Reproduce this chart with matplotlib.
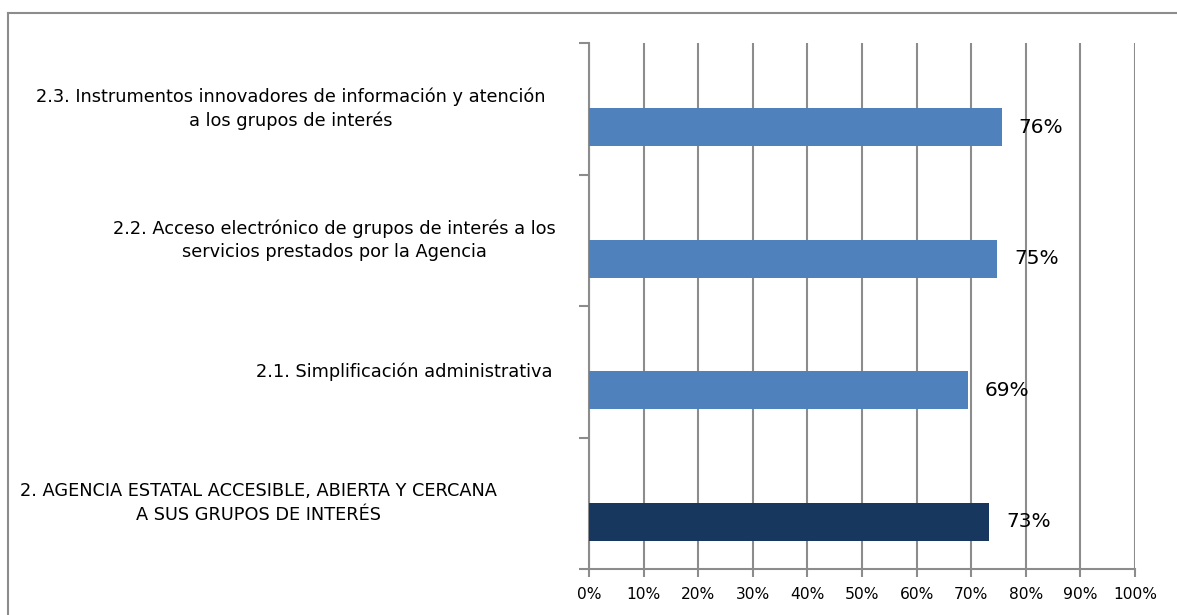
import matplotlib.pyplot as plt
import matplotlib.lines as mlines
import numpy as np

# data (bottom to top)
categories = [
    "2. AGENCIA ESTATAL ACCESIBLE, ABIERTA Y CERCANA\nA SUS GRUPOS DE INTERÉS",
    "2.1. Simplificación administrativa",
    "2.2. Acceso electrónico de grupos de interés a los\nservicios prestados por la Agencia",
    "2.3. Instrumentos innovadores de información y atención\na los grupos de interés",
]
values = [73.3, 69.4, 74.8, 75.6]
bar_colors = ["#17375E", "#4F81BD", "#4F81BD", "#4F81BD"]
# horizontal centre of each wrapped label, in pixels
label_centers = [258, 404, 334, 291]

plt.rcParams['font.family'] = ['DejaVu Sans']

W, H = 1177, 615
fig = plt.figure(figsize=(W / 100, H / 100), dpi=100)
fig.patch.set_facecolor('white')

# plot area in pixels: left 589, right 1135, top 43, bottom 569
ax = fig.add_axes([589 / W, 1 - 569 / H, (1135 - 589) / W, (569 - 43) / H])

y = np.arange(len(categories))
# bars sit below the category centre (empty second series in the original)
ax.barh(y - 0.14, values, height=0.29, color=bar_colors, zorder=3)

ax.set_xlim(0, 100)
ax.set_ylim(-0.5, len(categories) - 0.5)
ax.set_xticks(np.arange(0, 101, 10))
ax.set_xticklabels([f"{t}%" for t in range(0, 101, 10)], fontsize=11.2)
ax.set_yticks(np.arange(-0.5, len(categories), 1))
ax.set_yticklabels([])
ax.tick_params(axis='x', length=6, width=1.5, color='#8c8c8c', pad=7)
ax.tick_params(axis='y', length=7, width=1.5, color='#8c8c8c')

ax.grid(axis='x', color='#8c8c8c', linewidth=1.5, zorder=0)
for s in ['top', 'right']:
    ax.spines[s].set_visible(False)
for s in ['left', 'bottom']:
    ax.spines[s].set_color('#8c8c8c')
    ax.spines[s].set_linewidth(1.5)

# data labels
for yi, v in zip(y, values):
    ax.annotate(f"{round(v)}%", xy=(v, yi - 0.14), xytext=(12, 0),
                textcoords='offset points', va='center', ha='left',
                fontsize=14.5, color='black', zorder=4)

# category labels
for yi, lab, cx in zip(y, categories, label_centers):
    ax.annotate(lab, xy=(0, yi), xycoords=('axes fraction', 'data'),
                xytext=(cx - 589, 0), textcoords='offset pixels',
                ha='center', va='center', multialignment='center',
                fontsize=12.8, linespacing=1.4, color='black')

# outer frame (only top and left edges visible)
fig.add_artist(mlines.Line2D([8 / W, 1], [1 - 13 / H, 1 - 13 / H], color='#8c8c8c', linewidth=1.5))
fig.add_artist(mlines.Line2D([8 / W, 8 / W], [0, 1 - 13 / H], color='#8c8c8c', linewidth=1.5))

fig.savefig('out.png', dpi=100, facecolor='white')
